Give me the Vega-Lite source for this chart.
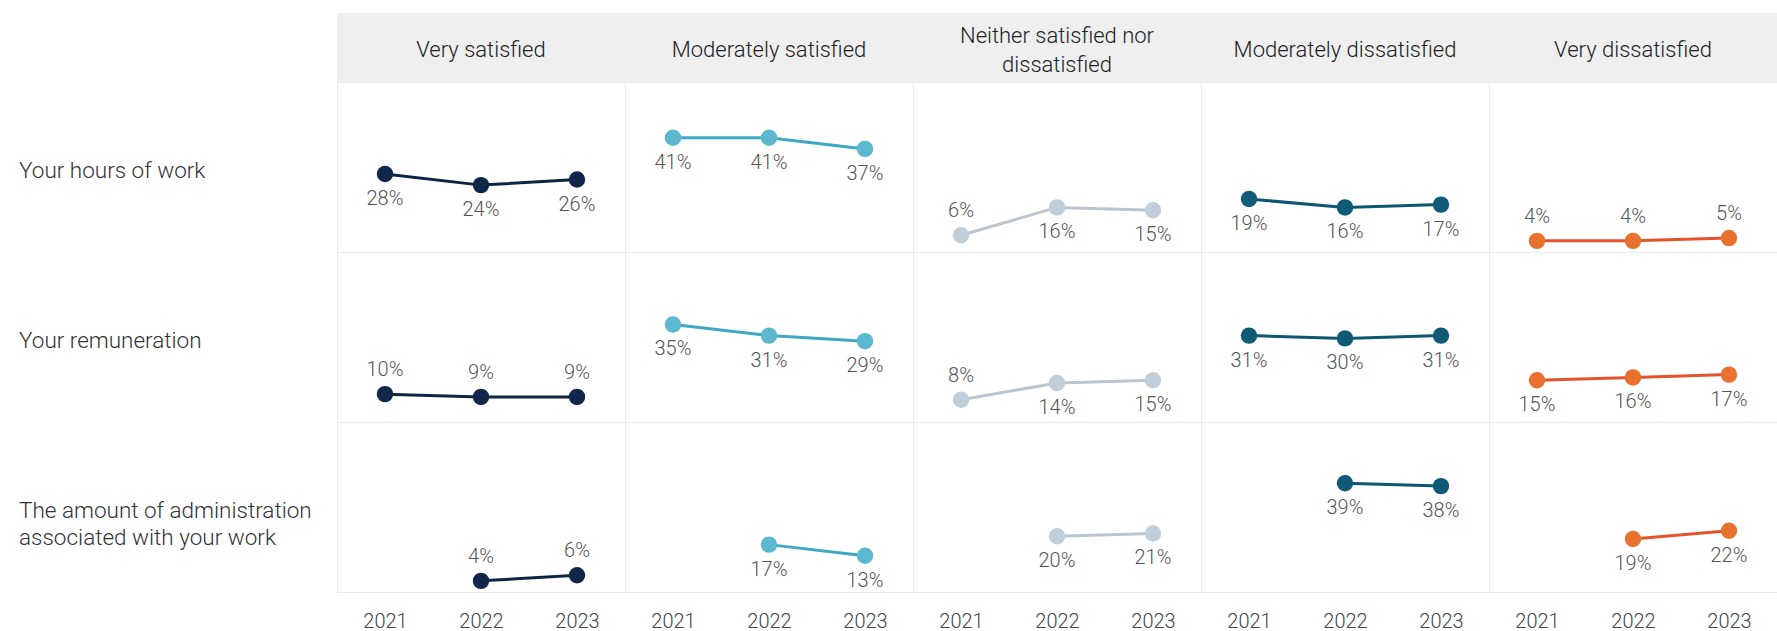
{
  "$schema": "https://vega.github.io/schema/vega-lite/v6.json",
  "padding": {"left": 19, "top": 13, "right": 0, "bottom": 0},
  "background": "white",
  "bounds": "flush",
  "spacing": 0,
  "datasets": {
    "levels": [
      {"level": "Very satisfied", "label": "Very satisfied"},
      {"level": "Moderately satisfied", "label": "Moderately satisfied"},
      {"level": "Neither satisfied nor dissatisfied", "label": "Neither satisfied nor\ndissatisfied"},
      {"level": "Moderately dissatisfied", "label": "Moderately dissatisfied"},
      {"level": "Very dissatisfied", "label": "Very dissatisfied"}
    ],
    "items": [
      {"item": "Your hours of work", "label": "Your hours of work"},
      {"item": "Your remuneration", "label": "Your remuneration"},
      {"item": "The amount of administration associated with your work", "label": "The amount of administration\nassociated with your work"}
    ],
    "survey": [
      {"item": "Your hours of work", "level": "Very satisfied", "year": "2021", "value": 0.28},
      {"item": "Your hours of work", "level": "Very satisfied", "year": "2022", "value": 0.24},
      {"item": "Your hours of work", "level": "Very satisfied", "year": "2023", "value": 0.26},
      {"item": "Your hours of work", "level": "Moderately satisfied", "year": "2021", "value": 0.41},
      {"item": "Your hours of work", "level": "Moderately satisfied", "year": "2022", "value": 0.41},
      {"item": "Your hours of work", "level": "Moderately satisfied", "year": "2023", "value": 0.37},
      {"item": "Your hours of work", "level": "Neither satisfied nor dissatisfied", "year": "2021", "value": 0.06},
      {"item": "Your hours of work", "level": "Neither satisfied nor dissatisfied", "year": "2022", "value": 0.16},
      {"item": "Your hours of work", "level": "Neither satisfied nor dissatisfied", "year": "2023", "value": 0.15},
      {"item": "Your hours of work", "level": "Moderately dissatisfied", "year": "2021", "value": 0.19},
      {"item": "Your hours of work", "level": "Moderately dissatisfied", "year": "2022", "value": 0.16},
      {"item": "Your hours of work", "level": "Moderately dissatisfied", "year": "2023", "value": 0.17},
      {"item": "Your hours of work", "level": "Very dissatisfied", "year": "2021", "value": 0.04},
      {"item": "Your hours of work", "level": "Very dissatisfied", "year": "2022", "value": 0.04},
      {"item": "Your hours of work", "level": "Very dissatisfied", "year": "2023", "value": 0.05},
      {"item": "Your remuneration", "level": "Very satisfied", "year": "2021", "value": 0.10},
      {"item": "Your remuneration", "level": "Very satisfied", "year": "2022", "value": 0.09},
      {"item": "Your remuneration", "level": "Very satisfied", "year": "2023", "value": 0.09},
      {"item": "Your remuneration", "level": "Moderately satisfied", "year": "2021", "value": 0.35},
      {"item": "Your remuneration", "level": "Moderately satisfied", "year": "2022", "value": 0.31},
      {"item": "Your remuneration", "level": "Moderately satisfied", "year": "2023", "value": 0.29},
      {"item": "Your remuneration", "level": "Neither satisfied nor dissatisfied", "year": "2021", "value": 0.08},
      {"item": "Your remuneration", "level": "Neither satisfied nor dissatisfied", "year": "2022", "value": 0.14},
      {"item": "Your remuneration", "level": "Neither satisfied nor dissatisfied", "year": "2023", "value": 0.15},
      {"item": "Your remuneration", "level": "Moderately dissatisfied", "year": "2021", "value": 0.31},
      {"item": "Your remuneration", "level": "Moderately dissatisfied", "year": "2022", "value": 0.30},
      {"item": "Your remuneration", "level": "Moderately dissatisfied", "year": "2023", "value": 0.31},
      {"item": "Your remuneration", "level": "Very dissatisfied", "year": "2021", "value": 0.15},
      {"item": "Your remuneration", "level": "Very dissatisfied", "year": "2022", "value": 0.16},
      {"item": "Your remuneration", "level": "Very dissatisfied", "year": "2023", "value": 0.17},
      {"item": "The amount of administration associated with your work", "level": "Very satisfied", "year": "2022", "value": 0.04},
      {"item": "The amount of administration associated with your work", "level": "Very satisfied", "year": "2023", "value": 0.06},
      {"item": "The amount of administration associated with your work", "level": "Moderately satisfied", "year": "2022", "value": 0.17},
      {"item": "The amount of administration associated with your work", "level": "Moderately satisfied", "year": "2023", "value": 0.13},
      {"item": "The amount of administration associated with your work", "level": "Neither satisfied nor dissatisfied", "year": "2022", "value": 0.20},
      {"item": "The amount of administration associated with your work", "level": "Neither satisfied nor dissatisfied", "year": "2023", "value": 0.21},
      {"item": "The amount of administration associated with your work", "level": "Moderately dissatisfied", "year": "2022", "value": 0.39},
      {"item": "The amount of administration associated with your work", "level": "Moderately dissatisfied", "year": "2023", "value": 0.38},
      {"item": "The amount of administration associated with your work", "level": "Very dissatisfied", "year": "2022", "value": 0.19},
      {"item": "The amount of administration associated with your work", "level": "Very dissatisfied", "year": "2023", "value": 0.22}
    ]
  },
  "hconcat": [
    {
      "data": {"name": "items"},
      "width": 318,
      "height": 579,
      "view": {"stroke": null},
      "mark": {"type": "text", "align": "left", "baseline": "middle", "dy": 4, "fontSize": 22.5, "font": "Roboto", "fontWeight": 300, "color": "#333333", "lineBreak": "\n", "lineHeight": 27},
      "encoding": {
        "x": {"datum": 0, "type": "quantitative", "scale": {"domain": [0, 1], "nice": false}, "axis": null},
        "y": {
          "field": "item", "type": "nominal",
          "sort": ["Your hours of work", "Your remuneration", "The amount of administration associated with your work"],
          "scale": {"type": "band", "paddingInner": 0, "paddingOuter": 0.203, "align": 1},
          "axis": null
        },
        "text": {"field": "label"}
      }
    },
    {
      "spacing": 0,
      "bounds": "flush",
      "vconcat": [
        {
          "data": {"name": "levels"},
          "width": 1440,
          "height": 69,
          "view": {"stroke": null},
          "encoding": {
            "x": {
              "field": "level", "type": "nominal",
              "sort": ["Very satisfied", "Moderately satisfied", "Neither satisfied nor dissatisfied", "Moderately dissatisfied", "Very dissatisfied"],
              "scale": {"paddingInner": 0, "paddingOuter": 0},
              "axis": null
            }
          },
          "layer": [
            {"mark": {"type": "rect", "color": "#efefef"}},
            {
              "transform": [{"filter": "datum.level != 'Neither satisfied nor dissatisfied'"}],
              "mark": {"type": "text", "dy": 2, "fontSize": 22, "font": "Roboto", "fontWeight": 300, "color": "#222222"},
              "encoding": {"text": {"field": "label"}}
            },
            {
              "transform": [{"filter": "datum.level == 'Neither satisfied nor dissatisfied'"}],
              "mark": {"type": "text", "dy": -12, "fontSize": 22, "font": "Roboto", "fontWeight": 300, "color": "#222222", "lineBreak": "\n", "lineHeight": 29},
              "encoding": {"text": {"field": "label"}}
            }
          ]
        },
        {
          "data": {"name": "survey"},
          "spacing": 0,
          "bounds": "flush",
          "facet": {
            "row": {
              "field": "item", "type": "nominal",
              "sort": ["Your hours of work", "Your remuneration", "The amount of administration associated with your work"],
              "header": {"labels": false, "title": null}
            },
            "column": {
              "field": "level", "type": "nominal",
              "sort": ["Very satisfied", "Moderately satisfied", "Neither satisfied nor dissatisfied", "Moderately dissatisfied", "Very dissatisfied"],
              "header": {"labels": false, "title": null}
            }
          },
          "spec": {
            "width": 288,
            "height": 170,
            "encoding": {
              "x": {
                "field": "year", "type": "ordinal",
                "scale": {"type": "point", "padding": 0.5, "domain": ["2021", "2022", "2023"]},
                "axis": {"title": null, "ticks": false, "domain": false, "labelAngle": 0, "labelPadding": 19, "labelFontSize": 20, "labelFont": "Roboto", "labelFontWeight": 300, "labelColor": "#444444"}
              },
              "y": {
                "field": "value", "type": "quantitative",
                "scale": {"domain": [0, 0.61], "nice": false, "zero": true},
                "axis": null
              },
              "color": {
                "field": "level", "type": "nominal",
                "scale": {
                  "domain": ["Very satisfied", "Moderately satisfied", "Neither satisfied nor dissatisfied", "Moderately dissatisfied", "Very dissatisfied"],
                  "range": ["#10264a", "#5bb8cf", "#c0cddb", "#0e5a77", "#e8712d"]
                },
                "legend": null
              }
            },
            "layer": [
              {
                "mark": {"type": "line", "strokeWidth": 3},
                "encoding": {
                  "order": {"field": "year"},
                  "stroke": {
                    "field": "level", "type": "nominal",
                    "scale": {
                      "domain": ["Very satisfied", "Moderately satisfied", "Neither satisfied nor dissatisfied", "Moderately dissatisfied", "Very dissatisfied"],
                      "range": ["#0e2443", "#3ea8c5", "#bcc5cf", "#0d5772", "#e4532b"]
                    },
                    "legend": null
                  }
                }
              },
              {"mark": {"type": "circle", "size": 270, "opacity": 1}},
              {
                "transform": [{"filter": "datum.value > 0.1"}],
                "mark": {"type": "text", "dy": 25, "fontSize": 20, "font": "Roboto", "fontWeight": 300},
                "encoding": {"text": {"field": "value", "type": "quantitative", "format": ".0%"}, "color": {"value": "#555555"}}
              },
              {
                "transform": [{"filter": "datum.value <= 0.1"}],
                "mark": {"type": "text", "dy": -24, "fontSize": 20, "font": "Roboto", "fontWeight": 300},
                "encoding": {"text": {"field": "value", "type": "quantitative", "format": ".0%"}, "color": {"value": "#555555"}}
              }
            ]
          }
        }
      ]
    }
  ],
  "config": {
    "view": {"stroke": "#ebebeb", "strokeWidth": 1},
    "font": "Roboto"
  }
}
